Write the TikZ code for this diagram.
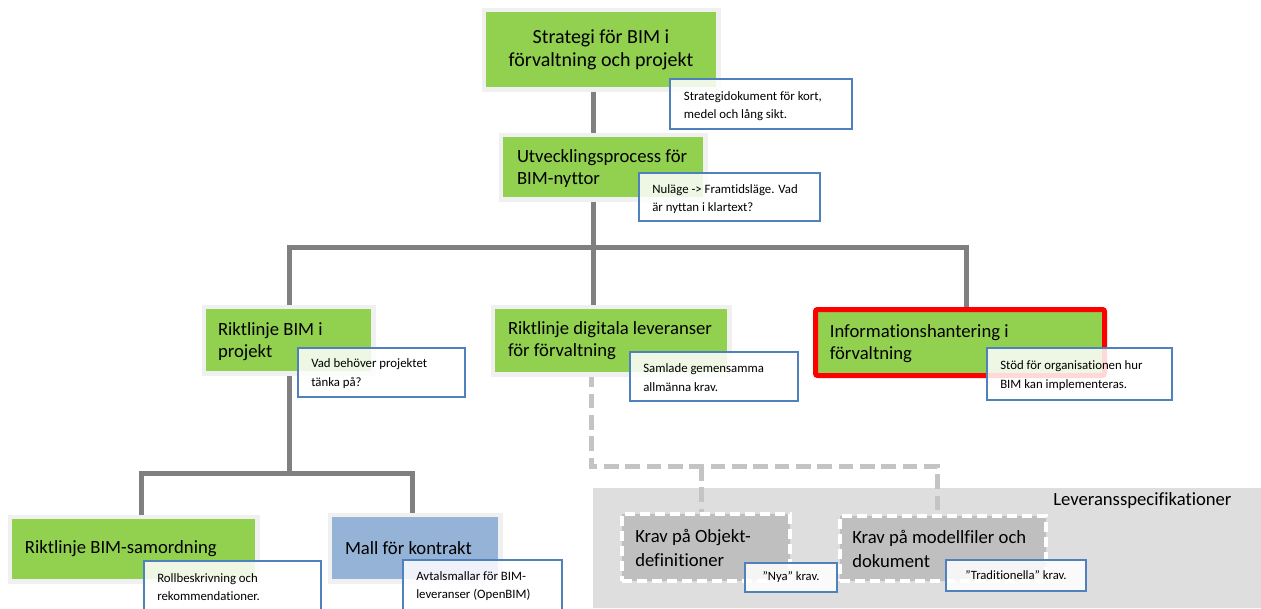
\documentclass[tikz,border=0pt]{standalone}
\usepackage{fontspec}
\setmainfont{Carlito}[Ligatures=NoCommon]
\usetikzlibrary{backgrounds}
\definecolor{bimgreen}{HTML}{92D050}
\definecolor{bimblue}{HTML}{95B3D7}
\definecolor{noteblue}{HTML}{4F81BD}
\definecolor{conngray}{HTML}{808080}
\definecolor{dashgray}{HTML}{C4C4C4}
\definecolor{framegray}{HTML}{F0F0F0}
\definecolor{panelgray}{HTML}{DEDEDE}
\definecolor{kravgray}{HTML}{BFBFBF}
\begin{document}
\begin{tikzpicture}[x=0.75pt,y=-0.75pt,
  conn/.style={draw=conngray, line width=3.75pt},
  dconn/.style={draw=dashgray, line width=3.75pt, dash pattern=on 11pt off 5pt},
  boxframe/.style={preaction={draw=framegray, line width=6.75pt}},
  gbox/.style={rectangle, fill=bimgreen, boxframe, inner sep=0pt},
  bbox/.style={rectangle, fill=bimblue, boxframe, inner sep=0pt},
  redbox/.style={rectangle, fill=bimgreen, draw=red, line width=3.75pt, rounded corners=1.5pt, inner sep=0pt},
  kbox/.style={rectangle, fill=kravgray, draw=white, line width=3pt, dash pattern=on 7.5pt off 3.75pt, inner sep=0pt},
  note/.style={rectangle, draw=noteblue, line width=1.5pt, fill=white, fill opacity=0.85, text opacity=1, inner sep=0pt},
  btxt/.style={anchor=west, align=left, inner sep=0pt, font=\fontsize{14}{16.5}\selectfont},
  ktxt/.style={anchor=west, align=left, inner sep=0pt, font=\fontsize{14}{18}\selectfont},
  ntxt/.style={anchor=west, align=left, inner sep=0pt, font=\fontsize{9.6}{14}\selectfont},
  stxt/.style={font=\fontsize{9.5}{12}\selectfont}
]
\useasboundingbox (0,0) rectangle (1261,608);
\clip (0,0) rectangle (1261,608);

% junction points of the connector tree
\coordinate (jtop) at (593,247);
\coordinate (jl) at (289,247);
\coordinate (jr) at (966,247);
\coordinate (jb) at (289,473);
\coordinate (jbl) at (141,473);
\coordinate (jbr) at (412,473);
\coordinate (dA) at (591,466);
\coordinate (dM) at (701,466);
\coordinate (dB) at (937,466);

% boxes
\node[gbox, minimum width=172.5pt, minimum height=56.25pt, align=center,
      font=\fontsize{15}{17}\selectfont] (b1) at (601,49.5)
      {Strategi för BIM i\\förvaltning och projekt};
\node[gbox, minimum width=150pt, minimum height=45pt] (b2) at (603,167) {};
\node[gbox, minimum width=123.75pt, minimum height=46.5pt] (b3) at (288.5,340) {};
\node[gbox, minimum width=174pt, minimum height=47.25pt] (b4) at (611,340.5) {};
\node[redbox, minimum width=216.75pt, minimum height=49.5pt] (b5) at (960,342.5) {};
\node[gbox, minimum width=182.25pt, minimum height=45pt] (b6) at (133.5,549) {};
\node[bbox, minimum width=124.5pt, minimum height=46.5pt] (b7) at (415,548) {};
\node[kbox, minimum width=126pt, minimum height=50.25pt] (ka) at (706,547.5) {};
\node[kbox, minimum width=154.5pt, minimum height=48.75pt] (kb) at (943,548.5) {};

% panel and connectors behind the boxes
\begin{scope}[on background layer]
  \fill[panelgray] (593,488) rectangle (1261,608);
  \draw[conn] (b1.south -| jtop) -- (b2.north -| jtop);
  \draw[conn] (b2.south -| jtop) -- (jtop) -- (jtop |- b4.north);
  \draw[conn] (jl |- b3.north) |- (jr) -- (jr |- b5.north);
  \draw[conn] (b3.south -| jl) -- (jb);
  \draw[conn] (jbl |- b6.north) |- (jbr) -- (jbr |- b7.north);
  \draw[dconn] (b4.south -| dA) -- (dA) -- (dB) -- (dB |- kb.north);
  \draw[dconn] (dM) -- (dM |- ka.north);
\end{scope}
\node[anchor=west, inner sep=0pt, font=\fontsize{14}{16}\selectfont] (levspec) at (1053,501) {Leveransspecifikationer};

% box texts
\node[btxt] (t2) at ([xshift=10.5pt,yshift=-1pt]b2.west) {Utvecklingsprocess för\\BIM-nyttor};
\node[btxt] (t3) at ([xshift=9pt,yshift=-1pt]b3.west) {Riktlinje BIM i\\projekt};
\node[btxt] (t4) at ([xshift=9.75pt]b4.west) {Riktlinje digitala leveranser\\för förvaltning};
\node[btxt] (t5) at ([xshift=12.4pt,yshift=-0.5pt]b5.west) {Informationshantering i\\förvaltning};
\node[btxt] (t6) at ([xshift=9.75pt]b6.west) {Riktlinje BIM-samordning};
\node[btxt] (t7) at ([xshift=9.75pt]b7.west) {Mall för kontrakt};
\node[ktxt] (ta) at ([xshift=11.25pt]ka.west) {Krav på Objekt-\\definitioner};
\node[ktxt] (tb) at ([xshift=10.5pt]kb.west) {Krav på modellfiler och\\dokument};

% notes
\node[note, minimum width=136.5pt, minimum height=37.5pt] (n1) at (761,104) {};
\node[note, minimum width=135.75pt, minimum height=36pt] (n2) at (729.5,197) {};
\node[note, minimum width=125.25pt, minimum height=36.75pt] (n3) at (381.5,372.5) {};
\node[note, minimum width=126pt, minimum height=36.75pt] (n4) at (714,376.5) {};
\node[note, minimum width=138.75pt, minimum height=39pt] (n5) at (1079.5,374) {};
\node[note, minimum width=132.75pt, minimum height=58.5pt] (n6) at (232.5,600) {};
\node[note, minimum width=119.25pt, minimum height=60pt] (n7) at (482.5,600) {};
\node[note, minimum width=69pt, minimum height=21.75pt, stxt] (na) at (791,577.5) {”Nya” krav.};
\node[note, minimum width=105pt, minimum height=23.25pt, stxt] (nb) at (1016,575.5) {”Traditionella” krav.};

\node[ntxt] (s1) at ([xshift=11pt,yshift=-1.5pt]n1.west) {Strategidokument för kort,\\medel och lång sikt.};
\node[ntxt] (s2) at ([xshift=10.5pt,yshift=-1.5pt]n2.west) {Nuläge -> Framtidsläge. Vad\\är nyttan i klartext?};
\node[ntxt] (s3) at ([xshift=10.5pt,yshift=-1pt]n3.west) {Vad behöver projektet\\tänka på?};
\node[ntxt] (s4) at ([xshift=10.5pt,yshift=-1pt]n4.west) {Samlade gemensamma\\allmänna krav.};
\node[ntxt] (s5) at ([xshift=10.5pt,yshift=-1pt]n5.west) {Stöd för organisationen hur\\BIM kan implementeras.};
\node[ntxt] (s6) at ([xshift=10.5pt,yshift=9.75pt]n6.west) {Rollbeskrivning och\\rekommendationer.};
\node[ntxt] (s7) at ([xshift=10.5pt,yshift=10.5pt]n7.west) {Avtalsmallar för BIM-\\leveranser (OpenBIM)};
\end{tikzpicture}
\end{document}
